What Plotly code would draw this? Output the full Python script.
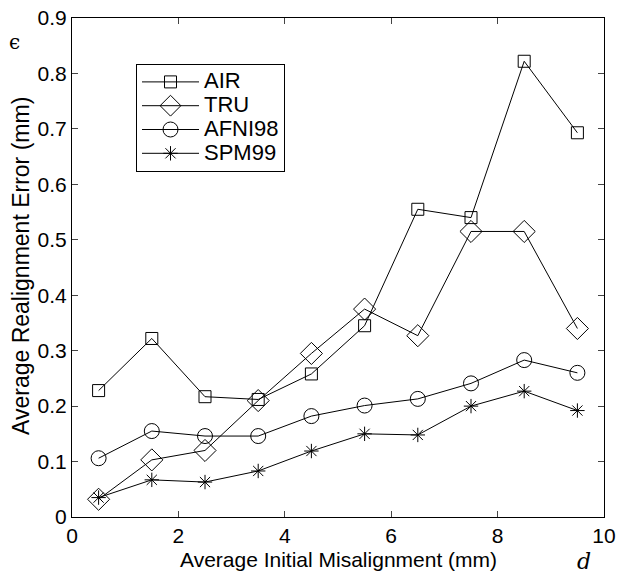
import plotly.graph_objects as go

x_vals = [0.5, 1.5, 2.5, 3.5, 4.5, 5.5, 6.5, 7.5, 8.5, 9.5]
air = [0.228, 0.322, 0.217, 0.212, 0.258, 0.345, 0.555, 0.540, 0.822, 0.693]
tru = [0.032, 0.103, 0.120, 0.210, 0.295, 0.375, 0.327, 0.515, 0.515, 0.340]
afni98 = [0.106, 0.155, 0.146, 0.146, 0.182, 0.201, 0.213, 0.241, 0.283, 0.260]
spm99 = [0.035, 0.067, 0.063, 0.083, 0.119, 0.150, 0.148, 0.200, 0.227, 0.192]
x_ticks = [0, 2, 4, 6, 8, 10]
y_ticks = [0, 0.1, 0.2, 0.3, 0.4, 0.5, 0.6, 0.7, 0.8, 0.9]
y_ticktext = ["0", "0.1", "0.2", "0.3", "0.4", "0.5", "0.6", "0.7", "0.8", "0.9"]

series = [
    ("AIR", air, "square-open", 12),
    ("TRU", tru, "diamond-open", 17),
    ("AFNI98", afni98, "circle-open", 15),
    ("SPM99", spm99, "asterisk-open", 12),
]

fig = go.Figure()
for name, vals, sym, sz in series:
    fig.add_trace(go.Scatter(
        x=x_vals, y=vals, name="<span style='font-size:22px'>%s</span>" % name,
        mode="lines+markers",
        line=dict(color="black", width=1),
        marker=dict(symbol=sym, size=sz, color="black", line=dict(width=1, color="black")),
    ))

font = "Liberation Sans, Arial, sans-serif"
L, R, T, B = 72, 13, 18, 56
W, H = 617, 573
pw = W - L - R
ph = H - T - B

def px2paper(px, py):
    return (px - L) / pw, (H - B - py) / ph

lx, ly = px2paper(136, 64)
ex, ey = px2paper(14, 42)
dx, dy = px2paper(584, 561)
xtx, xty = px2paper(338, 559)
ytx, yty = px2paper(21, 266)

fig.update_layout(
    width=W, height=H,
    margin=dict(l=L, r=R, t=T, b=B),
    paper_bgcolor="white", plot_bgcolor="white",
    font=dict(family=font, size=21, color="black"),
    showlegend=True,
    legend=dict(x=lx, y=ly, xanchor="left", yanchor="top",
                bordercolor="black", borderwidth=1, bgcolor="white",
                font=dict(size=16), tracegroupgap=0, itemwidth=57),
    xaxis=dict(range=[0, 10], tickvals=x_ticks, ticks="inside", ticklen=6,
               showline=True, linecolor="black", linewidth=1, mirror="ticks",
               showgrid=False, zeroline=False, tickfont=dict(size=21), automargin=False),
    yaxis=dict(range=[0, 0.9], tickvals=y_ticks, ticktext=y_ticktext,
               ticks="inside", ticklen=6,
               showline=True, linecolor="black", linewidth=1, mirror="ticks",
               showgrid=False, zeroline=False, tickfont=dict(size=21), automargin=False),
    annotations=[
        dict(text="Average Initial Misalignment (mm)", x=xtx, y=xty, xref="paper", yref="paper",
             showarrow=False, xanchor="center", yanchor="middle", font=dict(size=21)),
        dict(text="Average Realignment Error (mm)", x=ytx, y=yty, xref="paper", yref="paper",
             showarrow=False, xanchor="center", yanchor="middle", textangle=-90, font=dict(size=23)),
        dict(text="ϵ", x=ex, y=ey, xref="paper", yref="paper", showarrow=False,
             xanchor="center", yanchor="middle",
             font=dict(family="DejaVu Serif, serif", size=20)),
        dict(text="<i>d</i>", x=dx, y=dy, xref="paper", yref="paper", showarrow=False,
             xanchor="center", yanchor="middle",
             font=dict(family="DejaVu Serif, serif", size=22)),
    ],
)

fig.write_html("out.html", config={"displayModeBar": False},
               post_script="document.body.style.margin='0';document.body.style.overflow='hidden';")
